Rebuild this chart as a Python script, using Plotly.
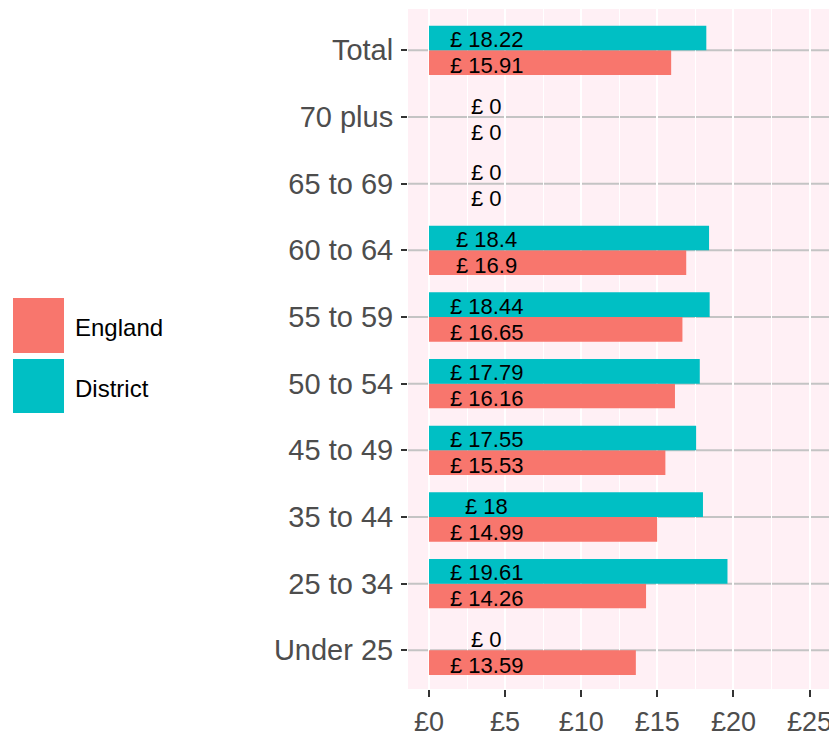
import plotly.graph_objects as go

categories = ["Under 25", "25 to 34", "35 to 44", "45 to 49", "50 to 54",
              "55 to 59", "60 to 64", "65 to 69", "70 plus", "Total"]
england = [13.59, 14.26, 14.99, 15.53, 16.16, 16.65, 16.9, 0, 0, 15.91]
district = [0, 19.61, 18, 17.55, 17.79, 18.44, 18.4, 0, 0, 18.22]
series_names = ["England", "District"]
series_colors = ["#F8766D", "#00BFC4"]

FONT = "Liberation Sans, Arial, sans-serif"

fig = go.Figure()
fig.add_trace(go.Bar(y=categories, x=england, orientation="h", name=series_names[0],
                     marker=dict(color=series_colors[0], line=dict(width=0)), showlegend=False))
fig.add_trace(go.Bar(y=categories, x=district, orientation="h", name=series_names[1],
                     marker=dict(color=series_colors[1], line=dict(width=0)), showlegend=False))

def fmt(v):
    return "£ " + f"{v:g}"

annotations = []
for cat, e, d in zip(categories, england, district):
    annotations.append(dict(x=3.8, y=cat, xref="x", yref="y", text=fmt(d), showarrow=False,
                            yshift=11, font=dict(family=FONT, size=22, color="black")))
    annotations.append(dict(x=3.8, y=cat, xref="x", yref="y", text=fmt(e), showarrow=False,
                            yshift=-15, font=dict(family=FONT, size=22, color="black")))

# page body has an 8px margin; figure is sized/positioned to compensate
OFF = 8
FW, FH = 837 - OFF, 737 - OFF
W, H, L, T = 421, 680, 408 - OFF, 9 - OFF

def px(xs):
    return (xs - OFF - L) / W
def py(ys):
    return (T + H - (ys - OFF)) / H

shapes = []
# horizontal category grid lines, beneath the white vertical grid
for cat in categories:
    shapes.append(dict(type="line", xref="paper", yref="y", x0=0, x1=1, y0=cat, y1=cat,
                       line=dict(color="#C4C4C4", width=2), layer="below"))

key_boxes = [(298, 353), (359, 413)]
for (y0, y1), col, name in zip(key_boxes, series_colors, series_names):
    shapes.append(dict(type="rect", xref="paper", yref="paper", x0=px(13), x1=px(64),
                       y0=py(y1), y1=py(y0), fillcolor=col, line=dict(width=0), layer="above"))
    annotations.append(dict(x=px(73), y=py((y0 + y1) / 2 + 2), xref="paper", yref="paper",
                            text=name, showarrow=False, xanchor="left", yanchor="middle",
                            font=dict(family=FONT, size=24, color="black")))

fig.update_layout(
    width=FW, height=FH,
    margin=dict(l=L, r=FW - L - W, t=T, b=FH - T - H, autoexpand=False),
    barmode="group", bargap=0.26, bargroupgap=0,
    plot_bgcolor="#FFF0F5", paper_bgcolor="white",
    font=dict(family=FONT, color="#4D4D4D"),
    annotations=annotations, shapes=shapes,
    showlegend=False,
)
fig.update_xaxes(
    range=[-1.38, 26.28], tickmode="linear", tick0=0, dtick=5, tickprefix="£",
    showgrid=True, gridcolor="white", gridwidth=1.6,
    minor=dict(dtick=2.5, tick0=0, showgrid=True, gridcolor="white", gridwidth=0.9),
    zeroline=False, ticks="outside", ticklen=7, tickwidth=1.5, tickcolor="#333333",
    tickfont=dict(family=FONT, size=27, color="#4D4D4D"), ticklabelstandoff=2,
    showline=False, fixedrange=True, automargin=False,
)
fig.update_yaxes(
    categoryorder="array", categoryarray=categories, range=[-0.58, 9.62],
    showgrid=False,
    zeroline=False, ticks="outside", ticklen=6, tickwidth=1.5, tickcolor="#333333",
    tickfont=dict(family=FONT, size=29, color="#4D4D4D"), ticklabelstandoff=2,
    showline=False, fixedrange=True, automargin=False,
)

fig.write_html("out.html")
